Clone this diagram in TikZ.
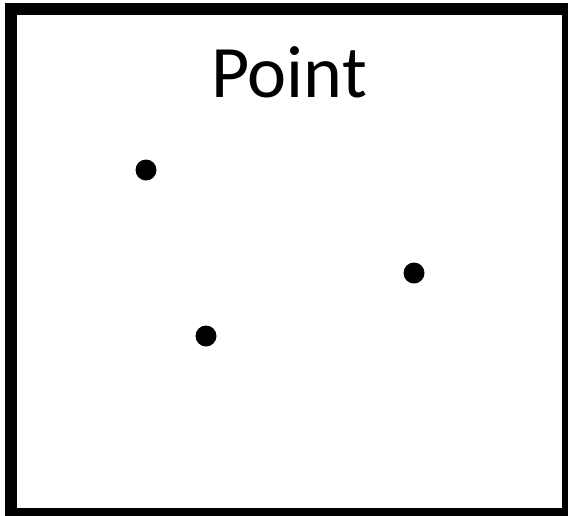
\documentclass[tikz,border=0pt]{standalone}
\usepackage{fontspec}
\setmainfont{Carlito}
\begin{document}
\begin{tikzpicture}[x=1pt,y=-1pt,
  dot/.style={circle,fill=black,inner sep=0pt,minimum size=21pt},
  frame/.style={draw=black,line width=12pt}]
\useasboundingbox (0,0) rectangle (568,515);
\clip (0,0) rectangle (568,515);
\fill[white] (0,0) rectangle (568,515);
\draw[frame] (11,9) rectangle (568,514);
\node[anchor=base,font=\fontsize{74}{88}\selectfont,inner sep=0pt] (title) at (289,97) {Point};
\node[dot] (p1) at (146,170) {};
\node[dot] (p2) at (414,273) {};
\node[dot] (p3) at (206,336) {};
\end{tikzpicture}
\end{document}
